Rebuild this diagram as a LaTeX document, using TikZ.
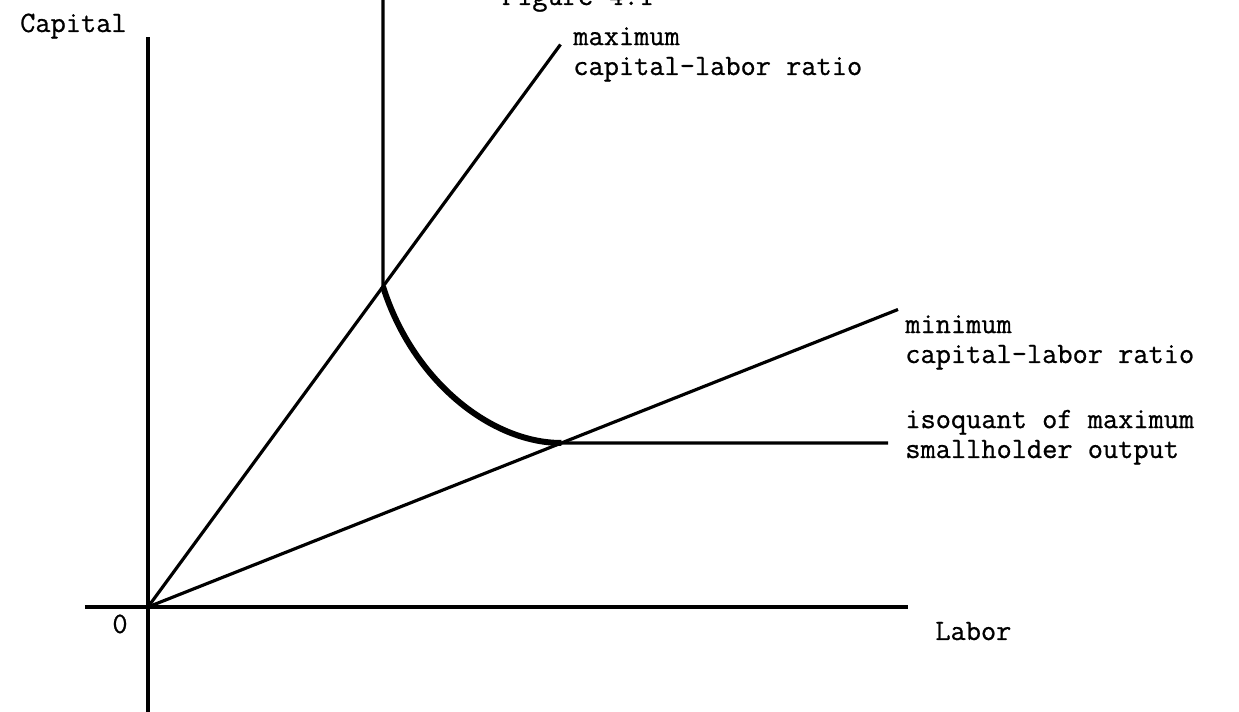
\documentclass[tikz,border=0pt]{standalone}
\usepackage{fontspec}
\newfontfamily\typer[FakeBold=0.8]{Latin Modern Mono}
\begin{document}
\begin{tikzpicture}[
    axis/.style={line width=1.9pt},
    ray/.style={line width=1.8pt},
    isoq/.style={line width=1.9pt},
    curvy/.style={line width=3.4pt},
    lbl/.style={font=\typer\fontsize{16.8}{17}\selectfont, inner sep=0pt, align=left},
]
    \useasboundingbox (-2.96,-2.1) rectangle (21.82,12.14);

    % axes
    \coordinate (O) at (0,0);
    \coordinate (capTop) at (0,11.4);
    \coordinate (capBot) at (0,-2.2);
    \coordinate (labL) at (-1.26,0);
    \coordinate (labR) at (15.2,0);
    \draw[axis] (capBot) -- (capTop);
    \draw[axis] (labL) -- (labR);

    \node[lbl, anchor=base east] (capital) at (-0.42,11.5) {Capital};
    \node[lbl, anchor=base] (zero) at (-0.56,-0.52) {0};
    \node[lbl, anchor=base west] (labor) at (15.74,-0.66) {Labor};
    \node[lbl, anchor=base] (fig) at (8.6,12.04) {Figure 4.1};

    % capital-labor rays
    \coordinate (maxEnd) at (8.25,11.25);
    \coordinate (minEnd) at (15.0,5.95);
    \draw[ray] (O) -- (maxEnd);
    \draw[ray] (O) -- (minEnd);

    \node[lbl, anchor=base west] (maxLbl) at (8.5,10.64) {maximum\\capital-labor ratio};
    \node[lbl, anchor=base west] (minLbl) at (15.14,4.88) {minimum\\capital-labor ratio};

    % isoquant
    \coordinate (kink) at (intersection of O--maxEnd and 4.7,0--4.7,12);
    \coordinate (tang) at (intersection of O--minEnd and 0,3.28--15,3.28);
    \coordinate (vTop) at (4.7,12.3);
    \coordinate (isoEnd) at (14.8,3.28);
    \draw[isoq] (kink) -- (vTop);
    \draw[curvy] (kink) .. controls +(0.6,-1.9) and +(-1.4,0) .. (tang);
    \draw[isoq] (tang) -- (isoEnd);

    \node[lbl, anchor=base west] (isoLbl) at (15.14,2.98) {isoquant of maximum\\smallholder output};
\end{tikzpicture}
\end{document}
